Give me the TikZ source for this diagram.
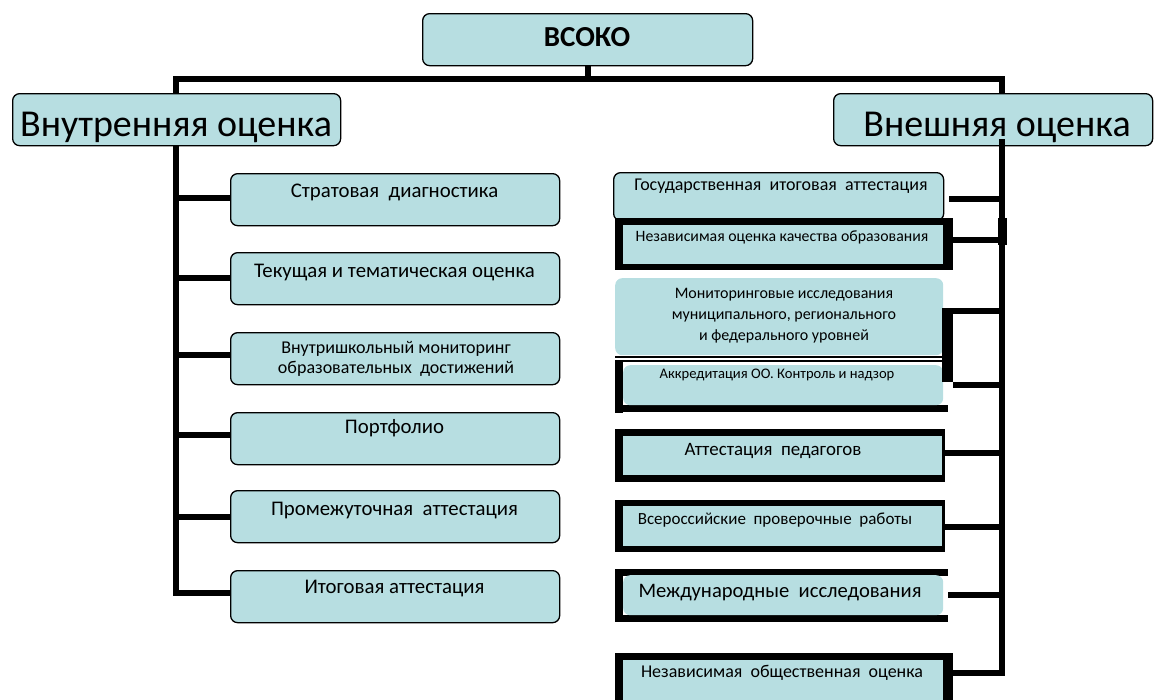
\documentclass[tikz,border=0pt]{standalone}
\usepackage{fontspec}
\setmainfont{Carlito}
\definecolor{boxfill}{RGB}{183,222,225}
\begin{document}
\begin{tikzpicture}[x=1pt,y=-1pt,
  box/.style={draw=black,line width=1.3pt,fill=boxfill,rounded corners=7pt,anchor=north west,inner sep=0pt},
  plainbox/.style={fill=boxfill,rounded corners=7pt,anchor=north west,inner sep=0pt},
  blk/.style={fill=black,anchor=north west,inner sep=0pt},
  conn/.style={line width=6pt,line join=miter},
  txt/.style={anchor=base,inner sep=0pt,text=black},
  fa/.style={txt,font=\fontsize{20.8}{23}\selectfont},
  fa2/.style={txt,font=\fontsize{18}{20}\selectfont},
  fb/.style={txt,font=\fontsize{16}{18}\selectfont},
  big/.style={txt,font=\fontsize{38}{42}\selectfont},
  lbox/.style={box,minimum width=329pt,minimum height=52pt}
]
\useasboundingbox (0,0) rectangle (1154,699);

% ---------- trunk coordinates
\coordinate (tl) at (176,79);
\coordinate (tr) at (1002,79);
\coordinate (rb) at (1002,139);

% ---------- header box and trunk
\node[box,minimum width=330pt,minimum height=52pt] (vsoko) at (422,13) {};
\draw[conn] (vsoko.south) -- (vsoko.south |- tl);

% ---------- left boxes
\node[lbox] (strat) at (230,173) {};
\node[lbox] (tek)   at (230,252) {};
\node[lbox] (vnsh)  at (230,332) {};
\node[lbox] (port)  at (230,412) {};
\node[lbox] (prom)  at (230,490) {};
\node[lbox] (itog)  at (230,570) {};

\draw[conn] (itog.west |- 0,593) -| (tl) -- (tr) -- (1002,96);
\draw[conn] (tl |- 0,198) -- (strat.west |- 0,198);
\draw[conn] (tl |- 0,278) -- (tek.west |- 0,278);
\draw[conn] (tl |- 0,355) -- (vnsh.west |- 0,355);
\draw[conn] (tl |- 0,435) -- (port.west |- 0,435);
\draw[conn] (tl |- 0,517) -- (prom.west |- 0,517);

\node[box,minimum width=328pt,minimum height=52pt] (vnut) at (12,93) {};
\node[box,minimum width=319pt,minimum height=52pt] (vnesh) at (833,93) {};

% ---------- right boxes
\node[box,minimum width=330pt,minimum height=48pt] (gos) at (613,172) {};
\node[blk,minimum width=338pt,minimum height=52pt] (nkf) at (615,218) {};
\node[plainbox,rounded corners=0pt,minimum width=320pt,minimum height=39pt] (nk) at (623,225) {};

\node[plainbox,minimum width=328pt,minimum height=77pt] (mon) at (615,278) {};
\draw[line width=1.2pt] (mon.south west |- 0,357) -- (mon.south east |- 0,357);
\node[blk,minimum width=328pt,minimum height=2.6pt] (akt) at (615,359.5) {};
\node[blk,minimum width=8pt,minimum height=53pt] (akl) at (615,359.5) {};
\node[blk,minimum width=333pt,minimum height=7pt] (akb) at (615,405) {};
\node[plainbox,minimum width=320pt,minimum height=40pt] (akk) at (623,365) {};
\node[blk,minimum width=11pt,minimum height=74pt] (brk) at (942,308) {};

\node[blk,minimum width=330pt,minimum height=53pt] (attf) at (615,429) {};
\node[plainbox,rounded corners=0pt,minimum width=319pt,minimum height=39pt] (att) at (623,436) {};

\node[blk,minimum width=330pt,minimum height=52pt] (vprf) at (615,500) {};
\node[plainbox,rounded corners=0pt,minimum width=319pt,minimum height=40pt] (vpr) at (623,506) {};

\node[blk,minimum width=333pt,minimum height=6.5pt] (mzt) at (615,569) {};
\node[blk,minimum width=8pt,minimum height=53pt] (mzl) at (615,569) {};
\node[blk,minimum width=333pt,minimum height=7pt] (mzb) at (615,615) {};
\node[plainbox,minimum width=320pt,minimum height=40pt] (mzh) at (623,575) {};

\node[blk,minimum width=338pt,minimum height=50pt] (nobf) at (615,653) {};
\node[plainbox,rounded corners=0pt,minimum width=320pt,minimum height=45pt] (nob) at (623,660) {};

% ---------- right trunk and connectors
\node[blk,minimum width=9pt,minimum height=27pt] (thk) at (998,218) {};
\draw[conn] (nobf.east |- 0,673) -- (1002,673) -- (rb);
\draw[conn] (gos.east |- 0,199) ++(5,0) -- (rb |- 0,199);
\draw[conn] (nkf.east |- 0,240) -- (rb |- 0,240);
\draw[conn] (brk.north west |- 0,311) -- (rb |- 0,311);
\draw[conn] (brk.south east |- 0,385) -- (rb |- 0,385);
\draw[conn] (attf.east |- 0,453) -- (rb |- 0,453);
\draw[conn] (vprf.east |- 0,527) -- (rb |- 0,527);
\draw[conn] (mzb.east |- 0,595) -- (rb |- 0,595);

% ---------- texts
\node[txt,font=\fontsize{29}{32}\selectfont\bfseries] (t0) at (587,46) {ВСОКО};
\node[big] (t1) at (176,136) {Внутренняя оценка};
\node[big] (t2) at (997,136) {Внешняя оценка};

\node[fa] (ls1) at (394.5,197) {Стратовая\ \ диагностика};
\node[fa] (ls2) at (394.5,277) {Текущая и тематическая оценка};
\node[fa2] (ls3) at (396,353) {Внутришкольный мониторинг};
\node[fa2] (ls3b) at (396,373) {образовательных\ \ достижений};
\node[fa] (ls4) at (394.5,433) {Портфолио};
\node[fa] (ls5) at (394.5,515) {Промежуточная\ \ аттестация};
\node[fa] (ls6) at (394.5,593) {Итоговая аттестация};

\node[txt,font=\fontsize{18}{20}\selectfont] (rs1) at (781,190) {Государственная\ \ итоговая\ \ аттестация};
\node[txt,font=\fontsize{15.8}{18}\selectfont] (rs2) at (782,241) {Независимая оценка качества образования};
\node[fb] (rs3) at (784,298) {Мониторинговые исследования};
\node[fb] (rs3b) at (784,319) {муниципального, регионального};
\node[fb] (rs3c) at (784,340) {и федерального уровней};
\node[txt,font=\fontsize{14.6}{17}\selectfont] (rs4) at (777,378) {Аккредитация ОО. Контроль и надзор};
\node[txt,font=\fontsize{18.9}{21}\selectfont] (rs5) at (773,455) {Аттестация\ \ педагогов};
\node[txt,font=\fontsize{17}{19}\selectfont] (rs6) at (775,524) {Всероссийские\ \ проверочные\ \ работы};
\node[txt,font=\fontsize{20.6}{23}\selectfont] (rs7) at (780,597) {Международные\ \ исследования};
\node[txt,font=\fontsize{18}{20}\selectfont] (rs8) at (782,677) {Независимая\ \ общественная\ \ оценка};
\end{tikzpicture}
\end{document}
